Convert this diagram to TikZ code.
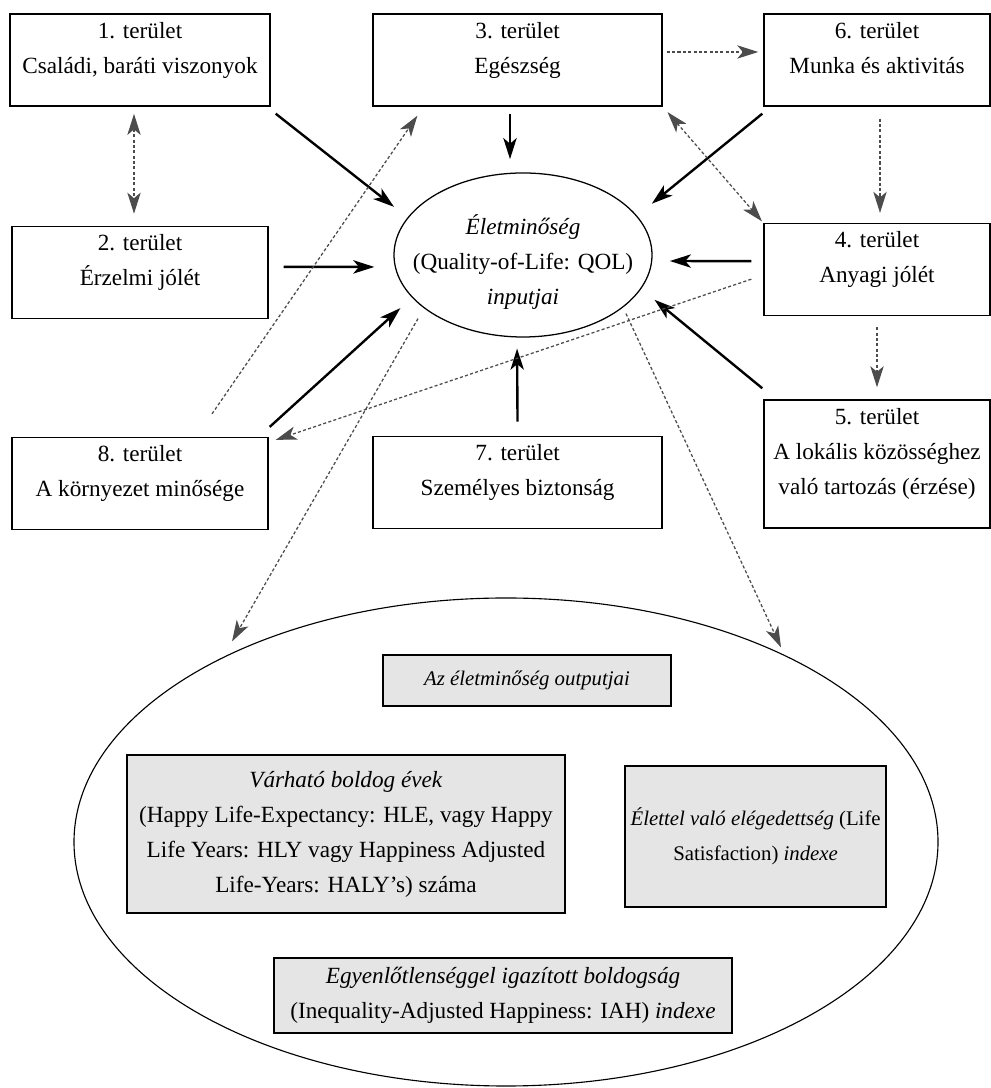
\documentclass[tikz,border=0pt]{standalone}
\usepackage{fontspec}
\setmainfont{Liberation Serif}
\usepackage{tikz}
\usetikzlibrary{shapes.geometric,arrows.meta,calc}

\newcommand{\boxfont}{\fontsize{16.5}{24.9}\selectfont}
\newcommand{\narrowfont}{\fontsize{14.8}{24.9}\selectfont}

\tikzset{
    box/.style={draw, line width=1pt, align=center, font=\boxfont, inner sep=2pt, text depth=17.5pt, minimum height=2.3cm},
    outbox/.style={draw, line width=1.1pt, fill=black!10, align=center, font=\boxfont, inner sep=2pt},
    inarrow/.style={line width=1.7pt, -{Stealth[length=15pt, width=9.5pt, inset=4pt]}},
    dotline/.style={black!70, line width=0.9pt, dash pattern=on 2.2pt off 1.6pt},
    dotarrow/.style={dotline, -{Stealth[length=15pt, width=9.5pt, inset=4pt, fill=black!70]}},
    dotboth/.style={dotline, {Stealth[length=15pt, width=9.5pt, inset=4pt, fill=black!70]}-{Stealth[length=15pt, width=9.5pt, inset=4pt, fill=black!70]}}
}

\begin{document}
\begin{tikzpicture}
        \useasboundingbox (0,0) rectangle (24.775,27.2);

        % Area boxes, top row
        \node[box, minimum width=6.5cm] (b1) at (3.5,25.7) {1. terület\\Családi, baráti viszonyok};
        \node[box, minimum width=7.225cm] (b3) at (12.94,25.7) {3. terület\\Egészség};
        \node[box, minimum width=5.65cm] (b6) at (21.925,25.7) {6. terület\\Munka és aktivitás};

        % Middle row with the QOL ellipse
        \node[box, minimum width=6.4cm] (b2) at (3.5,20.39) {2. terület\\Érzelmi jólét};
        \node[ellipse, draw, line width=0.9pt, inner xsep=-25pt, inner ysep=-10pt, text height=70pt, text depth=0pt, minimum width=6.45cm, minimum height=4.1cm, align=center, font=\boxfont] (qol) at (13.075,20.825) {\textit{Életminőség}\\(Quality-of-Life: QOL)\\\textit{inputjai}};
        \node[box, minimum width=5.65cm] (b4) at (21.925,20.46) {4. terület\\Anyagi jólét};

        % Bottom row
        \node[box, minimum width=6.4cm] (b8) at (3.5,15.11) {8. terület\\A környezet minősége};
        \node[box, minimum width=7.225cm] (b7) at (12.94,15.14) {7. terület\\Személyes biztonság};
        \node[box, minimum width=5.65cm, minimum height=3.2cm] (b5) at (21.925,15.6) {5. terület\\A lokális közösséghez\\való tartozás (érzése)};

        % Outputs
        \node[ellipse, draw, line width=0.8pt, minimum width=21.6cm, minimum height=12.2cm] (out) at (12.65,6.15) {};
        \node[outbox, font=\narrowfont, minimum width=7.2cm, minimum height=1.275cm] (o0) at (13.175,10.19) {\textit{Az életminőség outputjai}};
        \node[outbox, minimum width=10.95cm, minimum height=3.95cm] (o1) at (8.65,6.35) {\textit{Várható boldog évek}\\(Happy Life-Expectancy: HLE, vagy Happy\\Life Years: HLY vagy Happiness Adjusted\\Life-Years: HALY’s) száma};
        \node[outbox, font=\narrowfont, minimum width=6.525cm, minimum height=3.525cm] (o2) at (18.89,6.29) {\textit{Élettel való elégedettség} (Life\\Satisfaction) \textit{indexe}};
        \node[outbox, minimum width=11.45cm, minimum height=1.875cm] (o3) at (12.575,2.31) {\textit{Egyenlőtlenséggel igazított boldogság}\\(Inequality-Adjusted Happiness: IAH) \textit{indexe}};

        % Inputs into QOL
        \draw[inarrow, shorten >=0.43cm] ([shift={(0.125,-0.175)}]b1.south east) -- (qol.162);
        \draw[inarrow, shorten <=0.375cm, shorten >=0.475cm] ([yshift=0.14cm]b2.east) -- ([yshift=-0.3cm]qol.west);
        \draw[inarrow, shorten <=0.175cm, shorten >=0.33cm] ([xshift=-0.19cm]b3.south) -- ([xshift=-0.325cm]qol.north);
        \draw[inarrow, shorten >=0.475cm] ([shift={(-0.025,-0.175)}]b6.south west) -- (qol.19);
        \draw[inarrow, shorten <=0.3cm, shorten >=0.43cm] ([yshift=0.21cm]b4.west) -- ([yshift=-0.15cm]qol.east);
        \draw[inarrow, shorten >=0.43cm] ([shift={(-0.025,0.275)}]b5.north west) -- (qol.-16);
        \draw[inarrow, shorten <=0.35cm, shorten >=0.275cm] (b7.north) -- ([xshift=-0.15cm]qol.south);
        \draw[inarrow, shorten >=0.39cm] ([shift={(0.025,0.25)}]b8.north east) -- (qol.201.6);

        % Dotted links between areas
        \draw[dotboth, shorten <=0.18cm, shorten >=0.3cm] ([xshift=-0.15cm]b1.south) -- ([xshift=-0.15cm]b2.north);
        \draw[dotarrow, shorten <=0.1cm, shorten >=0.125cm] ([yshift=0.2cm]b3.east) -- ([yshift=0.2cm]b6.west);
        \draw[dotarrow, shorten <=0.3cm, shorten >=0.25cm] ([xshift=0.075cm]b6.south) -- ([xshift=0.075cm]b4.north);
        \draw[dotboth, shorten <=0.18cm, shorten >=0.05cm] (b3.south east) -- (b4.north west);
        \draw[dotarrow, shorten <=0.275cm, shorten >=0.3cm] (b4.south) -- (b5.north);
        \draw[dotarrow] ([shift={(-0.3,-0.24)}]b4.west) -- ([shift={(0.175,-0.075)}]b8.north east);
        \draw[dotarrow] ([shift={(1.8,0.575)}]b8.north) -- ([shift={(1.125,-0.225)}]b3.south west);

        % QOL to outputs
        \draw[dotarrow] ([shift={(-2.625,0.475)}]qol.south) -- ([shift={(-6.85,-1.1)}]out.north);
        \draw[dotarrow] ([shift={(2.575,0.6)}]qol.south) -- ([shift={(6.875,-1.25)}]out.north);
    \end{tikzpicture}
\end{document}
